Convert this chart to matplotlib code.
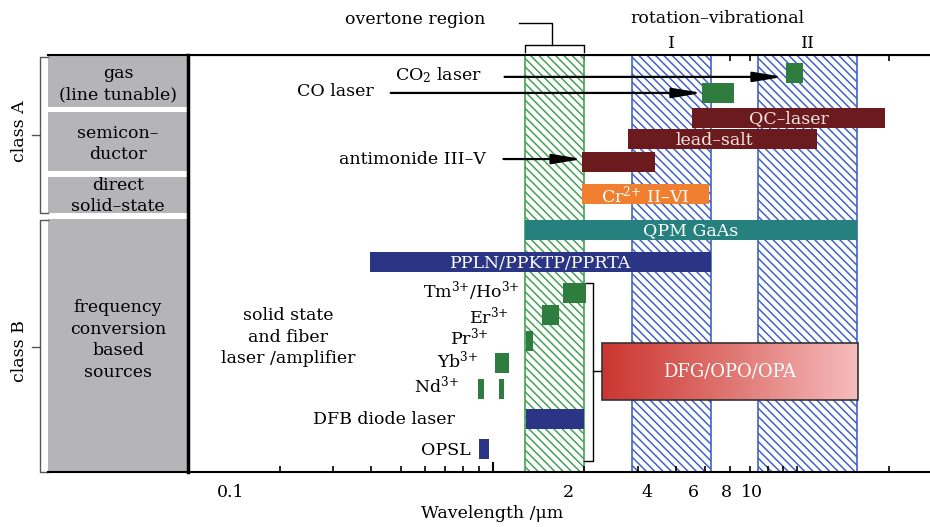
import numpy as np
import matplotlib
matplotlib.use("Agg")
import matplotlib.pyplot as plt
from matplotlib.colors import LinearSegmentedColormap
from matplotlib.patches import Rectangle
from matplotlib.ticker import FixedLocator, NullLocator, NullFormatter

plt.rcParams["font.family"] = "DejaVu Serif"
plt.rcParams["mathtext.fontset"] = "dejavuserif"
plt.rcParams["font.size"] = 12.5
plt.rcParams["hatch.linewidth"] = 1.1

GREEN = "#2e7d3f"
DARKRED = "#6b1b1d"
ORANGE = "#f08030"
TEAL = "#25807e"
NAVY = "#2b3585"

# spectral regions (um)
overtone = (1.28, 2.0)
rovib_bands = [(2.88, 5.22), (7.45, 15.7)]
rovib_names = ["I", "II"]

# laser sources: wavelength coverage (um) and row
src_lo = [9.2, 4.88, 4.52, 2.79, 1.97, 1.97, 1.28, 0.395, 1.70, 1.45, 1.29, 1.015, 0.893, 1.046, 1.29, 0.90]
src_hi = [10.46, 6.21, 19.4, 11.6, 3.42, 5.14, 15.7, 5.22, 2.03, 1.65, 1.36, 1.13, 0.934, 1.087, 2.0, 0.97]
src_row = [0.86, 1.82, 3.02, 4.05, 5.13, 6.67, 8.39, 9.93, 11.41, 12.49, 13.72, 14.77, 16.0, 16.0, 17.48, 18.9]
src_color = [GREEN, GREEN, DARKRED, DARKRED, DARKRED, ORANGE, TEAL, NAVY,
             GREEN, GREEN, GREEN, GREEN, GREEN, GREEN, NAVY, NAVY]
src_text = ["", "", "QC–laser", "lead–salt", "", r"Cr$^{2{+}}$ II–VI", "QPM GaAs",
            "PPLN/PPKTP/PPRTA", "", "", "", "", "", "", "", ""]

# nonlinear conversion (DFG/OPO/OPA)
dfg_range = (2.28, 15.85)
dfg_rows = (13.81, 16.55)

# side labels for the solid-state / fibre lasers
ion_labels = [r"Tm$^{3{+}}$/Ho$^{3{+}}$", r"Er$^{3{+}}$", r"Pr$^{3{+}}$", r"Yb$^{3{+}}$",
              r"Nd$^{3{+}}$", "DFB diode laser", "OPSL"]
ion_label_x = [1.226, 1.128, 0.970, 0.900, 0.779, 0.751, 0.847]
ion_label_y = [11.32, 12.52, 13.57, 14.63, 15.83, 17.5, 18.99]

tick_text = ["0.1", "2", "4", "6", "8", "10"]
tick_text_x = [0.138, 1.78, 3.22, 4.56, 5.85, 7.12]
minor_ticks = [0.2, 0.3, 0.4, 0.5, 0.6, 0.7, 0.8, 0.9, 2, 3, 4, 5, 6, 7, 8, 9, 10, 20]
top_ticks = [2, 3, 4, 5, 6, 7, 8, 9, 10, 20]

fig = plt.figure(figsize=(9.3, 5.27), dpi=100)
ax0 = fig.add_axes([0.05161, 0.10436, 0.15054, 0.79127])
ax = fig.add_axes([0.20215, 0.10436, 0.79785, 0.79127])

# ---- class panel on the left
ax0.set_xlim(0, 1)
ax0.set_ylim(20, 0)
ax0.set_facecolor("#b5b5b7")
ax0.set_xticks([])
ax0.set_yticks([])
for s in ["left", "right"]:
    ax0.spines[s].set_visible(False)
for s in ["top", "bottom"]:
    ax0.spines[s].set_linewidth(1.5)
for a, b in [(2.49, 2.73), (5.56, 5.85), (7.58, 7.87)]:
    ax0.axhspan(a, b, color="white", lw=0)
panel_text = ["gas\n(line tunable)", "semicon–\nductor", "direct\nsolid–state",
              "frequency\nconversion\nbased\nsources"]
panel_y = [1.39, 4.27, 6.76, 13.67]
for t, y in zip(panel_text, panel_y):
    ax0.text(0.5, y, t, ha="center", va="center", linespacing=1.35)

bk = dict(color="#555555", lw=1.0, clip_on=False)
ax0.plot([0, -0.057, -0.057, 0], [0.1, 0.1, 7.58, 7.58], **bk)
ax0.plot([-0.057, -0.114], [3.84, 3.84], **bk)
ax0.plot([0, -0.057, -0.057, 0], [7.91, 7.91, 20.0, 20.0], **bk)
ax0.plot([-0.057, -0.114], [14.0, 14.0], **bk)
ax0.text(-0.2, 3.65, "class A", rotation=90, ha="center", va="center")
ax0.text(-0.2, 14.2, "class B", rotation=90, ha="center", va="center")

# ---- main wavelength axis
ax.set_xscale("log")
ax.set_xlim(0.1, 27.3)
ax.set_ylim(20, 0)
ax.set_yticks([])
ax.spines["right"].set_visible(False)
ax.spines["left"].set_linewidth(2.5)
ax.spines["top"].set_linewidth(1.5)
ax.spines["bottom"].set_linewidth(1.5)
ax.xaxis.set_major_locator(FixedLocator([1]))
ax.xaxis.set_minor_locator(FixedLocator(minor_ticks))
ax.xaxis.set_major_formatter(NullFormatter())
ax.xaxis.set_minor_formatter(NullFormatter())
ax.tick_params(which="major", direction="in", length=7, width=1.5)
ax.tick_params(which="minor", direction="in", length=4, width=1.2)

sec = ax.secondary_xaxis("top")
sec.xaxis.set_major_locator(FixedLocator(top_ticks))
sec.xaxis.set_minor_locator(NullLocator())
sec.xaxis.set_major_formatter(NullFormatter())
sec.tick_params(direction="in", length=4, width=1.2)

xt = ax.get_xaxis_transform()
for t, x in zip(tick_text, tick_text_x):
    ax.text(x, -0.048, t, transform=xt, ha="center", va="center")
ax.set_xlabel("Wavelength /μm")
ax.xaxis.set_label_coords(0.41, -0.079)

# hatched absorption regions
ax.axvspan(*overtone, facecolor="white", edgecolor="#45a155", hatch="\\\\\\\\", lw=1.2, zorder=1)
for lo, hi in rovib_bands:
    ax.axvspan(lo, hi, facecolor="white", edgecolor="#4163c8", hatch="\\\\\\\\", lw=1.2, zorder=1)

# source bars
ax.barh(src_row, np.array(src_hi) - np.array(src_lo), left=src_lo, height=0.96,
        color=src_color, zorder=3)
for lo, hi, y, t, c in zip(src_lo, src_hi, src_row, src_text, src_color):
    if t:
        xc = np.sqrt(lo * hi)
        if t == "lead–salt":
            xc = 5.35
        fc = "#f5e4e4" if c == DARKRED else "white"
        ax.text(xc, y + 0.05, t, ha="center", va="center", color=fc, zorder=4)

# DFG/OPO/OPA gradient box
a, b = dfg_range
xs = np.linspace(a, b, 400)
grad = ((np.log(xs) - np.log(a)) / (np.log(b) - np.log(a)))[None, :]
cmap = LinearSegmentedColormap.from_list("dfg", ["#cc3631", "#e07672", "#f6bdbd"])
ax.imshow(grad, cmap=cmap, aspect="auto", extent=[a, b, dfg_rows[1], dfg_rows[0]],
          interpolation="bilinear", zorder=3)
ax.add_patch(Rectangle((a, dfg_rows[0]), b - a, dfg_rows[1] - dfg_rows[0],
                       fill=False, edgecolor="#333333", lw=1.2, zorder=4))
ax.text(np.sqrt(a * b), sum(dfg_rows) / 2, "DFG/OPO/OPA", ha="center", va="center",
        color="white", fontsize=13, zorder=5)
ax.set_xlim(0.1, 27.3)
ax.set_ylim(20, 0)

# labels with arrows
arrow = dict(arrowstyle="-|>,head_length=1.5,head_width=0.25", color="black", lw=1.6,
             mutation_scale=12, shrinkA=0, shrinkB=0)
ax.annotate("", xy=(9.0, 1.05), xytext=(1.095, 1.05), arrowprops=arrow, zorder=5)
ax.annotate("", xy=(4.88, 1.82), xytext=(0.463, 1.82), arrowprops=arrow, zorder=5)
ax.annotate("", xy=(1.97, 4.99), xytext=(1.086, 4.99), arrowprops=arrow, zorder=5)
ax.text(0.665, 0.96, "CO$_2$ laser", ha="center", va="center")
ax.text(0.407, 1.77, "CO laser", ha="right", va="center")
ax.text(0.948, 4.99, "antimonide III–V", ha="right", va="center")

for t, x, y in zip(ion_labels, ion_label_x, ion_label_y):
    ax.text(x, y, t, ha="right", va="center")
ax.text(0.213, 13.53, "solid state\nand fiber\nlaser /amplifier", ha="center", va="center",
        linespacing=1.35)

# bracket grouping the solid-state sources
ax.plot([2.02, 2.13, 2.13, 2.0], [10.94, 10.94, 19.47, 19.47], color="black", lw=1.0, zorder=2)
ax.plot([2.13, a], [15.16, 15.16], color="black", lw=1.0, zorder=2)

# region labels above the frame
ax.text(0.559, -1.68, "overtone region", ha="center", va="center")
ax.plot([1.217, 1.573, 1.573], [-1.55, -1.55, -0.48], color="black", lw=1.0, clip_on=False)
ax.plot([overtone[0], overtone[0], overtone[1], overtone[1]], [-0.14, -0.48, -0.48, -0.14],
        color="black", lw=1.0, clip_on=False)
ax.text(5.47, -1.77, "rotation–vibrational", ha="center", va="center")
for (lo, hi), n in zip(rovib_bands, rovib_names):
    ax.text(np.sqrt(lo * hi), -0.53, n, ha="center", va="center")

fig.savefig("out.png", dpi=100)
